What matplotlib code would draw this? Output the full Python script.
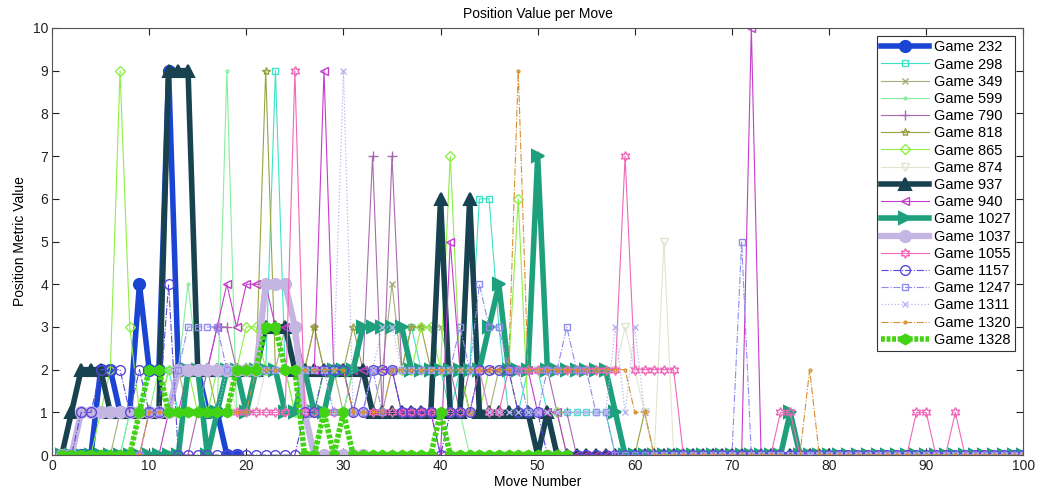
import numpy as np
import matplotlib
matplotlib.use('Agg')
import matplotlib.pyplot as plt

plt.rcParams['font.family'] = ['Liberation Sans', 'DejaVu Sans']

# position metric per move, move 1 first
game_232 = [0, 0, 0, 0, 2, 2, 1, 1, 4, 2,
            2, 9, 2, 2, 2, 1, 1, 0, 0]
game_298 = [0, 0, 0, 0, 0, 0, 0, 1, 1, 2,
            2, 2, 1, 1, 1, 2, 2, 2, 2, 1,
            2, 2, 9, 2, 2, 1, 1, 2, 2, 2,
            1, 2, 2, 2, 2, 2, 3, 2, 2, 2,
            1, 2, 2, 6, 6, 3, 1, 1, 2, 2,
            1, 1, 1, 1, 1, 1, 1, 0, 0, 0]
game_349 = [0, 0, 0, 0, 0, 0, 1, 1, 1, 1,
            1, 2, 2, 1, 1, 1, 1, 2, 2, 2,
            2, 2, 2, 3, 2, 2, 3, 2, 2, 1,
            2, 2, 1, 2, 4, 2, 3, 3, 3, 3,
            2, 2, 1, 1, 1, 2, 2, 1, 1, 0]
game_599 = [0, 0, 0, 0, 0, 0, 0, 1, 1, 1,
            2, 2, 2, 4, 2, 1, 1, 9, 1, 1,
            2, 2, 2, 2, 1, 1, 0, 1, 1, 1,
            2, 2, 2, 2, 2, 1, 1, 1, 1, 1,
            1, 1, 0, 0, 0]
game_790 = [0, 0, 0, 0, 0, 0, 0, 0, 0, 0,
            0, 0, 0, 0, 1, 2, 3, 3, 2, 2,
            2, 2, 2, 2, 2, 2, 1, 1, 2, 2,
            1, 2, 7, 1, 7, 2, 2, 2, 2, 2,
            2, 1, 2, 2, 2, 2, 2, 2, 2, 7,
            2, 1, 1, 0, 0]
game_818 = [0, 0, 0, 0, 0, 0, 0, 0, 1, 1,
            1, 1, 2, 2, 2, 2, 1, 1, 2, 2,
            2, 9, 2, 2, 2, 2, 3, 2, 2, 2,
            3, 2, 2, 2, 2, 2, 3, 3, 2, 2,
            2, 2, 1, 1, 1, 1, 1, 1, 1, 0,
            0, 0, 0, 0, 0, 0, 0, 0, 0, 0,
            1, 0]
game_865 = [0, 0, 0, 0, 1, 2, 9, 3, 1, 1,
            1, 2, 2, 2, 1, 1, 2, 2, 2, 3,
            3, 2, 2, 2, 1, 1, 1, 2, 2, 2,
            2, 2, 2, 2, 2, 2, 2, 3, 3, 2,
            7, 2, 1, 1, 2, 2, 2, 6, 1, 1,
            1, 1, 0, 0, 0]
game_874 = [0, 0, 0, 0, 0, 0, 0, 0, 1, 1,
            1, 1, 2, 2, 2, 2, 2, 2, 1, 1,
            1, 2, 2, 2, 3, 2, 2, 2, 2, 2,
            2, 2, 2, 2, 2, 2, 2, 2, 2, 2,
            2, 2, 2, 2, 2, 2, 2, 2, 2, 2,
            2, 2, 2, 2, 2, 2, 2, 2, 3, 2,
            1, 0, 5, 0]
game_937 = [0, 1, 2, 2, 2, 1, 1, 1, 1, 1,
            1, 9, 9, 9, 2, 2, 2, 2, 2, 2,
            2, 3, 3, 3, 2, 2, 2, 2, 2, 2,
            2, 2, 1, 1, 1, 1, 1, 1, 1, 6,
            1, 1, 6, 1, 1, 1, 1, 1, 1, 0,
            1, 0, 0, 0, 0, 0, 0, 0, 0, 0,
            0, 0, 0, 0, 0, 0, 0, 0, 0, 0,
            0, 0, 0, 0, 0, 0, 0, 0, 0, 0]
game_940 = [0, 0, 0, 0, 0, 0, 0, 0, 0, 0,
            0, 1, 1, 2, 2, 2, 3, 4, 3, 4,
            4, 4, 3, 3, 3, 2, 2, 9, 2, 2,
            2, 2, 2, 2, 2, 1, 1, 1, 1, 0,
            5, 2, 2, 2, 2, 2, 2, 2, 2, 1,
            1, 1, 0, 0, 0, 0, 0, 0, 0, 0,
            0, 0, 0, 0, 0, 0, 0, 0, 0, 0,
            0, 10, 0, 0]
game_1027 = [0, 0, 0, 0, 0, 0, 0, 0, 0, 0,
             0, 0, 0, 2, 2, 0, 1, 2, 2, 1,
             2, 2, 2, 1, 1, 2, 1, 1, 2, 2,
             2, 3, 3, 3, 3, 3, 2, 2, 2, 2,
             2, 2, 2, 2, 3, 4, 2, 2, 2, 7,
             2, 2, 2, 2, 2, 2, 2, 1, 0, 0,
             0, 0, 0, 0, 0, 0, 0, 0, 0, 0,
             0, 0, 0, 0, 0, 1, 0, 0, 0, 0,
             0, 0, 0, 0, 0, 0, 0, 0, 0, 0,
             0, 0, 0, 0, 0, 0, 0, 0, 0, 0]
game_1037 = [0, 0, 1, 1, 1, 1, 1, 1, 1, 1,
             1, 1, 2, 2, 2, 2, 2, 2, 2, 2,
             2, 4, 4, 4, 3, 1, 0, 0, 0, 0,
             0, 0]
game_1055 = [0, 0, 0, 0, 0, 0, 0, 0, 0, 1,
             1, 1, 1, 1, 1, 1, 1, 1, 1, 1,
             1, 1, 1, 1, 9, 1, 1, 1, 1, 1,
             1, 1, 1, 1, 1, 1, 1, 1, 1, 1,
             1, 1, 1, 2, 1, 1, 2, 2, 2, 2,
             2, 2, 2, 2, 2, 2, 2, 2, 7, 2,
             2, 2, 2, 2, 0, 0, 0, 0, 0, 0,
             0, 0, 0, 0, 1, 1, 0, 0, 0, 0,
             0, 0, 0, 0, 0, 0, 0, 0, 1, 1,
             0, 0, 1, 0, 0, 0, 0, 0, 0, 0]
game_1157 = [0, 0, 1, 1, 2, 2, 2, 1, 2, 1,
             1, 4, 0, 0, 0, 0, 0, 0, 0, 0,
             0, 0, 0, 0, 0, 1, 1, 2, 2, 2,
             1, 1, 2, 2, 2, 1, 1, 1, 1, 0,
             1, 1, 1, 2, 2, 2, 2, 1, 1, 1,
             0, 0, 0, 0, 0, 0, 0, 0, 0, 0,
             0, 0, 0, 0, 0, 0, 0, 0, 0, 0,
             0, 0, 0, 0, 0, 0, 0, 0, 0, 0,
             0, 0, 0, 0, 0, 0, 0, 0, 0, 0,
             0, 0, 0, 0, 0, 0, 0, 0, 0, 0]
game_1247 = [0, 0, 0, 0, 0, 0, 0, 0, 0, 1,
             1, 1, 2, 3, 3, 3, 3, 2, 2, 2,
             2, 2, 2, 2, 2, 2, 2, 2, 1, 1,
             1, 1, 2, 1, 2, 2, 2, 2, 2, 2,
             2, 3, 2, 4, 3, 3, 2, 2, 1, 1,
             2, 2, 3, 2, 2, 1, 1, 0, 0, 0,
             0, 0, 0, 0, 0, 0, 0, 0, 0, 0,
             5, 0, 0, 0, 0, 0, 0, 0, 0, 0,
             0, 0, 0, 0, 0, 0, 0, 0, 0, 0,
             0, 0, 0, 0, 0, 0, 0, 0, 0, 0]
game_1311 = [0, 0, 0, 0, 0, 0, 0, 0, 1, 1,
             1, 1, 1, 1, 1, 1, 1, 2, 2, 2,
             2, 2, 2, 2, 2, 2, 2, 2, 2, 9,
             1, 1, 2, 3, 3, 2, 2, 2, 2, 2,
             2, 2, 2, 2, 1, 1, 1, 1, 1, 1,
             1, 1, 1, 1, 1, 1, 1, 3, 1, 3,
             1, 0, 0, 0, 0, 0, 0, 0, 0, 0,
             0, 0, 0, 0, 0, 0, 0, 0, 0, 0,
             0, 0, 0, 0, 0, 0, 0, 0, 0, 0,
             0, 0, 0, 0, 0, 0, 0, 0, 0, 0]
game_1320 = [0, 0, 0, 0, 0, 0, 0, 0, 0, 1,
             1, 1, 1, 1, 1, 1, 1, 1, 1, 1,
             2, 2, 2, 2, 2, 2, 2, 2, 2, 2,
             1, 1, 1, 1, 2, 2, 2, 2, 2, 2,
             2, 2, 2, 2, 2, 2, 2, 9, 2, 2,
             2, 2, 2, 2, 2, 2, 2, 2, 2, 1,
             1, 0, 0, 0, 0, 0, 0, 0, 0, 0,
             0, 0, 0, 0, 0, 0, 0, 2, 0, 0,
             0, 0, 0, 0, 0, 0, 0, 0, 0, 0,
             0, 0, 0, 0, 0, 0, 0, 0, 0, 0]
game_1328 = [0, 0, 0, 0, 0, 0, 0, 0, 1, 2,
             2, 1, 1, 1, 1, 1, 1, 1, 2, 2,
             2, 3, 3, 2, 2, 0, 0, 1, 0, 1,
             0, 0, 0, 0, 0, 0, 0, 0, 0, 1,
             0, 0, 0, 0, 0, 0, 0, 0, 0, 0,
             0, 0, 0]

games = [232, 298, 349, 599, 790, 818, 865, 874, 937, 940,
         1027, 1037, 1055, 1157, 1247, 1311, 1320, 1328]
series = [game_232, game_298, game_349, game_599, game_790, game_818,
          game_865, game_874, game_937, game_940, game_1027, game_1037,
          game_1055, game_1157, game_1247, game_1311, game_1320, game_1328]

hexagram = (6, 1, 0)
fine_dots = (0, (0.7, 0.3))
# color, linestyle, linewidth, marker, marker size, filled
styles = [
    ('#1a45d2', '-', 4.0, 'o', 8, True),
    ('#3de3c8', '-', 0.8, 's', 5, False),
    ('#a7ad7c', '-', 0.8, 'x', 5, False),
    ('#86ee9c', '-', 0.8, '.', 4, False),
    ('#a86aae', '-', 0.8, '+', 7, False),
    ('#9aa343', '-', 0.8, '*', 6, False),
    ('#8cf046', '-', 0.8, 'D', 5, False),
    ('#e2e4d2', '-', 0.8, 'v', 6, False),
    ('#18424f', '-', 4.0, '^', 8, True),
    ('#c43ccc', '-', 0.8, '<', 6, False),
    ('#1fa07c', '-', 4.0, '>', 8, True),
    ('#c5b5e3', '-', 4.5, 'o', 8, True),
    ('#f068ba', '-', 0.8, hexagram, 7, False),
    ('#5848d8', '-.', 0.8, 'o', 7, False),
    ('#8f8ced', '-.', 0.8, 's', 5, False),
    ('#b7b6ee', ':', 0.9, 'x', 5, False),
    ('#d99032', '-.', 0.8, '.', 4, False),
    ('#42d414', fine_dots, 4.0, 'h', 7, True),
]

fig, ax = plt.subplots(figsize=(10.41, 4.99), dpi=100)
fig.subplots_adjust(left=0.05, right=0.983, bottom=0.088, top=0.944)

for game, vals, (color, ls, lw, marker, ms, filled) in zip(games, series, styles):
    moves = np.arange(1, len(vals) + 1)
    ax.plot(moves, vals, color=color, linestyle=ls, linewidth=lw,
            marker=marker, markersize=ms, dash_capstyle='butt',
            markerfacecolor=color if filled else 'none',
            markeredgecolor=color, markeredgewidth=1.0 if not filled else 1.5,
            label=f'Game {game}')

ax.set_xlim(0, 100)
ax.set_ylim(0, 10)
ax.set_xticks(np.arange(0, 101, 10))
ax.set_yticks(np.arange(0, 11, 1))
ax.tick_params(direction='in', top=True, right=True, length=5, width=0.8,
               labelsize=10, colors='#222222', pad=3)
for sp in ax.spines.values():
    sp.set_color('#555555')
    sp.set_linewidth(0.8)

ax.set_title('Position Value per Move', fontsize=10, pad=7)
ax.set_xlabel('Move Number', fontsize=10, labelpad=1)
ax.set_ylabel('Position Metric Value', fontsize=10, labelpad=4)

leg = ax.legend(loc='upper right', fontsize=10.5, handlelength=3.3,
                labelspacing=0.22, borderaxespad=0.55, borderpad=0.3,
                handletextpad=0.35, fancybox=False, framealpha=1)
leg.get_frame().set_edgecolor('#333333')
leg.get_frame().set_linewidth(0.8)

plt.savefig('out.png', dpi=100)
plt.close()
